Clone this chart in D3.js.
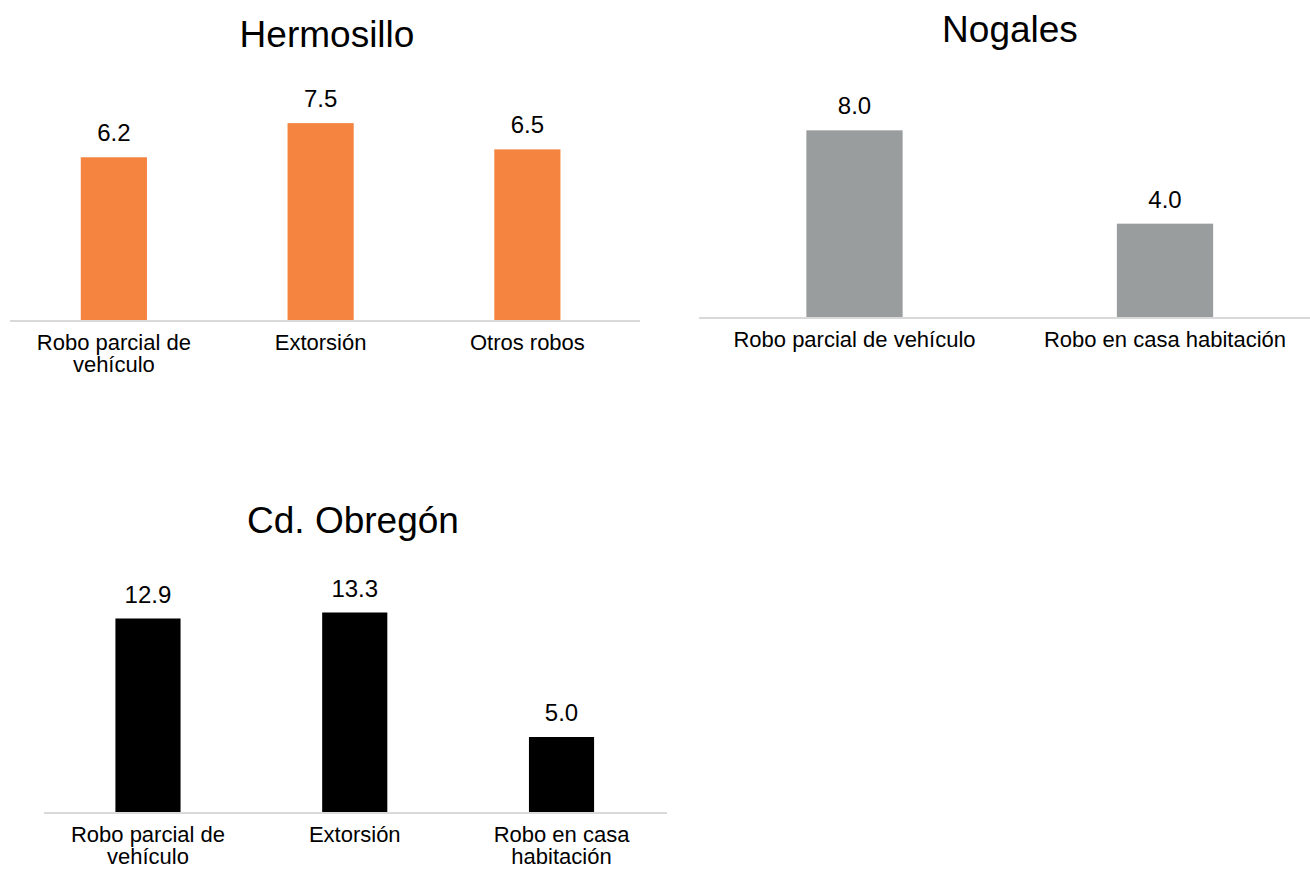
<!DOCTYPE html>
<html>
<head>
<meta charset="utf-8">
<script src="https://cdn.jsdelivr.net/npm/d3@7"></script>
<style>
  body { margin: 0; background: #fff; }
  text { font-family: "Liberation Sans", Arial, Helvetica, sans-serif; fill: #000; }
</style>
</head>
<body>
<div id="chart"></div>
<script>
// data
const hermosilloCats = ["Robo parcial de vehículo", "Extorsión", "Otros robos"];
const hermosilloVals = [6.2, 7.5, 6.5];

const nogalesCats = ["Robo parcial de vehículo", "Robo en casa habitación"];
const nogalesVals = [8.0, 4.0];

const obregonCats = ["Robo parcial de vehículo", "Extorsión", "Robo en casa habitación"];
const obregonVals = [12.9, 13.3, 5.0];

const width = 1310;
const height = 869;

const svg = d3.select("#chart").append("svg")
    .attr("width", width)
    .attr("height", height);

// wrap a label into lines that fit maxW
function wrap(textSel, maxW) {
    textSel.each(function () {
        const t = d3.select(this);
        const words = t.text().split(" ");
        const x = t.attr("x");
        t.text(null);
        let line = [];
        let tspan = t.append("tspan").attr("x", x).attr("dy", 0);
        words.forEach(w => {
            line.push(w);
            tspan.text(line.join(" "));
            if (tspan.node().getComputedTextLength() > maxW && line.length > 1) {
                line.pop();
                tspan.text(line.join(" "));
                line = [w];
                tspan = t.append("tspan").attr("x", x).attr("dy", "1em").text(w);
            }
        });
    });
}

function drawPanel(opt) {
    const g = svg.append("g");

    const x = d3.scaleBand()
        .domain(opt.cats)
        .range(opt.xRange)
        .paddingInner(opt.pad)
        .paddingOuter(opt.pad / 2);

    const y = d3.scaleLinear()
        .domain([0, opt.yMax])
        .range([opt.base, opt.base - 210]);

    // title
    g.append("text")
        .attr("x", opt.titleX)
        .attr("y", opt.titleY)
        .attr("text-anchor", "middle")
        .style("font-size", "37px")
        .text(opt.title);

    // bars
    g.selectAll("rect")
        .data(opt.vals)
        .join("rect")
        .attr("x", (d, i) => x(opt.cats[i]))
        .attr("width", x.bandwidth())
        .attr("y", d => y(d))
        .attr("height", d => y(0) - y(d))
        .attr("fill", opt.color);

    // value labels
    g.selectAll(".val")
        .data(opt.vals)
        .join("text")
        .attr("class", "val")
        .attr("x", (d, i) => x(opt.cats[i]) + x.bandwidth() / 2)
        .attr("y", d => y(d) - 16)
        .attr("text-anchor", "middle")
        .style("font-size", "24px")
        .text(d => d.toFixed(1));

    // axis line
    g.append("line")
        .attr("x1", opt.axisX[0])
        .attr("x2", opt.axisX[1])
        .attr("y1", y(0) + 1)
        .attr("y2", y(0) + 1)
        .attr("stroke", "#d9d9d9")
        .attr("stroke-width", 2);

    // category labels
    g.selectAll(".cat")
        .data(opt.cats)
        .join("text")
        .attr("class", "cat")
        .attr("x", d => x(d) + x.bandwidth() / 2)
        .attr("y", y(0) + 30)
        .attr("text-anchor", "middle")
        .style("font-size", "22px")
        .text(d => d)
        .call(wrap, x.step() - 10);
}

drawPanel({
    title: "Hermosillo", titleX: 327, titleY: 47,
    cats: hermosilloCats, vals: hermosilloVals,
    xRange: [10.5, 630.75], axisX: [10, 640], pad: 0.68,
    base: 320, yMax: 8, color: "#f4843f"
});

drawPanel({
    title: "Nogales", titleX: 1010, titleY: 42,
    cats: nogalesCats, vals: nogalesVals,
    xRange: [699.25, 1320.25], axisX: [699, 1310], pad: 0.69,
    base: 317, yMax: 9, color: "#9a9d9d"
});

drawPanel({
    title: "Cd. Obregón", titleX: 353, titleY: 533,
    cats: obregonCats, vals: obregonVals,
    xRange: [44.6, 664.9], axisX: [44, 667], pad: 0.685,
    base: 812, yMax: 14, color: "#000000"
});
</script>
</body>
</html>
